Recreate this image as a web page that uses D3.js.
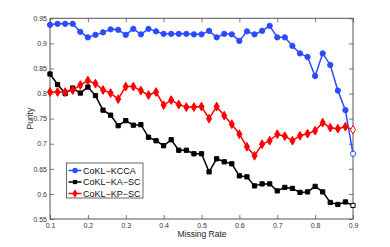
<!DOCTYPE html>
<html>
<head>
<meta charset="utf-8">
<script src="https://cdn.jsdelivr.net/npm/d3@7"></script>
<style>
  body { margin: 0; background: #fff; }
  svg { font-family: "Liberation Sans", Arial, sans-serif; }
</style>
</head>
<body>
<svg id="chart" width="390" height="247"></svg>
<script>
const missingRate = d3.range(41).map(i => +(0.1 + i * 0.02).toFixed(2))

const kcca = [0.937, 0.939, 0.939, 0.939, 0.923, 0.912, 0.917, 0.922, 0.928, 0.927,
  0.917, 0.929, 0.918, 0.929, 0.924, 0.919, 0.919, 0.919, 0.919, 0.918,
  0.918, 0.925, 0.912, 0.919, 0.918, 0.905, 0.924, 0.918, 0.925, 0.935,
  0.912, 0.912, 0.895, 0.880, 0.873, 0.835, 0.880, 0.857, 0.806, 0.767, 0.680]

const kaSc = [0.839, 0.818, 0.800, 0.811, 0.801, 0.813, 0.796, 0.767, 0.757, 0.736,
  0.746, 0.737, 0.738, 0.713, 0.706, 0.696, 0.708, 0.687, 0.687, 0.680,
  0.680, 0.644, 0.670, 0.664, 0.660, 0.636, 0.634, 0.616, 0.620, 0.620,
  0.606, 0.613, 0.611, 0.603, 0.604, 0.615, 0.604, 0.583, 0.579, 0.584, 0.577]

const kpSc = [0.803, 0.803, 0.803, 0.807, 0.817, 0.826, 0.820, 0.807, 0.801, 0.789,
  0.814, 0.814, 0.806, 0.797, 0.803, 0.777, 0.787, 0.778, 0.773, 0.773,
  0.774, 0.750, 0.774, 0.756, 0.739, 0.719, 0.694, 0.676, 0.699, 0.706,
  0.719, 0.715, 0.706, 0.716, 0.720, 0.726, 0.742, 0.732, 0.730, 0.734, 0.728]

const xTicks = [0.1, 0.2, 0.3, 0.4, 0.5, 0.6, 0.7, 0.8, 0.9]
const yTicks = [0.55, 0.6, 0.65, 0.7, 0.75, 0.8, 0.85, 0.9, 0.95]

const series = [
  {name: 'CoKL\u2212KCCA', values: kcca, color: '#2b4bff', symbol: d3.symbolCircle, size: 22},
  {name: 'CoKL\u2212KA\u2212SC', values: kaSc, color: '#000000', symbol: d3.symbolSquare, size: 18},
  {name: 'CoKL\u2212KP\u2212SC', values: kpSc, color: '#ff0000', symbol: d3.symbolDiamond, size: 22}
]

const plotLeft = 50, plotRight = 353, plotTop = 18.3, plotBottom = 219

const x = d3.scaleLinear().domain([0.1, 0.9]).range([plotLeft, plotRight])
const y = d3.scaleLinear().domain([0.55, 0.95]).range([plotBottom, plotTop])

const svg = d3.select('#chart')

// ticks inside, on all four sides (matlab style)
const tickLen = 4
const axisColor = '#555'

svg.append('g')
  .attr('transform', `translate(0,${plotBottom})`)
  .call(d3.axisBottom(x).tickValues(xTicks).tickSizeInner(-tickLen).tickSizeOuter(0).tickPadding(4).tickFormat(d3.format('')))
  .call(g => g.select('.domain').remove())
svg.append('g')
  .attr('transform', `translate(0,${plotTop})`)
  .call(d3.axisTop(x).tickValues(xTicks).tickSizeInner(-tickLen).tickSizeOuter(0).tickFormat(''))
  .call(g => g.select('.domain').remove())
svg.append('g')
  .attr('transform', `translate(${plotLeft},0)`)
  .call(d3.axisLeft(y).tickValues(yTicks).tickSizeInner(-tickLen).tickSizeOuter(0).tickPadding(3).tickFormat(d3.format('')))
  .call(g => g.select('.domain').remove())
svg.append('g')
  .attr('transform', `translate(${plotRight},0)`)
  .call(d3.axisRight(y).tickValues(yTicks).tickSizeInner(-tickLen).tickSizeOuter(0).tickFormat(''))
  .call(g => g.select('.domain').remove())

svg.selectAll('.tick line').attr('stroke', axisColor).attr('stroke-width', 0.8)
svg.selectAll('.tick text').attr('font-size', 7).attr('fill', '#333')
  .attr('font-family', '"Liberation Sans", Arial, sans-serif')

svg.append('rect')
  .attr('x', plotLeft).attr('y', plotTop)
  .attr('width', plotRight - plotLeft).attr('height', plotBottom - plotTop)
  .attr('fill', 'none').attr('stroke', axisColor).attr('stroke-width', 1)

const line = d3.line().x((d, i) => x(missingRate[i])).y(d => y(d))

series.forEach(s => {
  svg.append('path')
    .datum(s.values)
    .attr('d', line)
    .attr('fill', 'none')
    .attr('stroke', s.color)
    .attr('stroke-width', 1.5)

  svg.append('g').selectAll('path')
    .data(s.values)
    .enter()
    .append('path')
    .attr('transform', (d, i) => `translate(${x(missingRate[i])},${y(d)})`)
    .attr('d', d3.symbol().type(s.symbol).size(s.size))
    .attr('fill', (d, i) => i === s.values.length - 1 ? '#fff' : s.color)
    .attr('stroke', s.color)
    .attr('stroke-width', 1)
})

// axis labels
svg.append('text')
  .attr('x', 202)
  .attr('y', 237)
  .attr('text-anchor', 'middle')
  .attr('font-size', 8.5)
  .attr('fill', '#222')
  .text('Missing Rate')

svg.append('text')
  .attr('transform', `translate(32.5,${(plotTop + plotBottom) / 2}) rotate(-90)`)
  .attr('text-anchor', 'middle')
  .attr('font-size', 8.5)
  .attr('fill', '#222')
  .text('Purity')

// legend
const legend = svg.append('g')
legend.append('rect')
  .attr('x', 66.5).attr('y', 163)
  .attr('width', 76.5).attr('height', 35)
  .attr('fill', '#fff').attr('stroke', '#444').attr('stroke-width', 0.8)

series.forEach((s, i) => {
  const ly = 170.5 + i * 11.5
  legend.append('line')
    .attr('x1', 68.5).attr('x2', 81.5).attr('y1', ly).attr('y2', ly)
    .attr('stroke', s.color).attr('stroke-width', 1.5)
  legend.append('path')
    .attr('transform', `translate(75,${ly})`)
    .attr('d', d3.symbol().type(s.symbol).size(s.size))
    .attr('fill', s.color)
  legend.append('text')
    .attr('x', 83).attr('y', ly + 3.2)
    .attr('font-size', 9)
    .attr('fill', '#111')
    .text(s.name)
})
</script>
</body>
</html>
